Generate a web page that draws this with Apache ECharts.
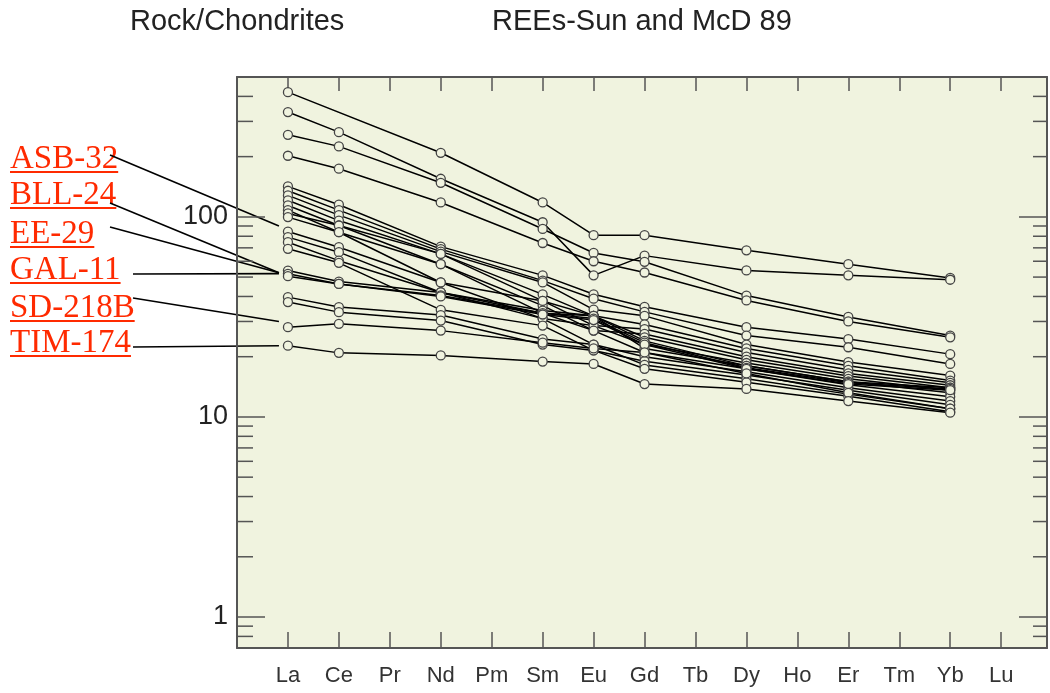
<!DOCTYPE html>
<html>
<head>
<meta charset="utf-8">
<script src="https://cdn.jsdelivr.net/npm/echarts@6/dist/echarts.min.js"></script>
<style>
  html, body { margin: 0; background: #fff; }
  #chart { width: 1050px; height: 693px; }
</style>
</head>
<body>
<div id="chart"></div>
<script>
// REE elements on the x axis, and the ones that were analysed
const elements = ['La', 'Ce', 'Pr', 'Nd', 'Pm', 'Sm', 'Eu', 'Gd', 'Tb', 'Dy', 'Ho', 'Er', 'Tm', 'Yb', 'Lu'];
const analysed = ['La', 'Ce', 'Nd', 'Sm', 'Eu', 'Gd', 'Dy', 'Er', 'Yb'];

// chondrite-normalised values, in the order of `analysed`
const s01 = [420, null, 209, 118, 81, 81, 68, 58, 49.5];
const s02 = [334, 265, 155, 94, 51, 64, 54, 51, 48.5];
const s03 = [257, 225, 148, 87, 66, 59.6, 40.4, 31.6, 25.5];
const s04 = [202, 174, 118, 74, 60, 52.7, 38.2, 30, 25];
const s05 = [142, 115, 71, 51, 41, 35.5, 28.1, 24.5, 20.6];
const s06 = [135, 108, 69, 48, 39, 33.5, 25.5, 22.3, 18.4];
const s07 = [128, 102, 67, 47, 34.4, 32, 23, 18.8, 16.1];
const s08 = [121, 95.8, 65.3, 41, 32, 29, 22, 18, 15.2];
const s09 = [114, 90.5, 65.3, 38, 28.6, 27.5, 21, 17.2, 14.8];
const s10 = [108, 83.8, 58, 36, 27, 26, 20, 16.5, 14.4];
const s11 = [104, 90.5, 58, 33, 32, 25, 19.3, 16, 14];
const s12 = [99.7, 83.8, 47, 31, 28.6, 23, 18.6, 15.5, 13.6];
const asb32 = [84.4, 70.5, 47, 38, 32, 22, 18, 15, 13.2];
const s14 = [79.2, 66.6, 41.9, 33, 27, 21, 17.4, 14.5, 12.6];
const s15 = [74.7, 60.4, 41.9, 31, 23, 20, 16.8, 14, 12];
const s16 = [69.2, 58.9, 34.3, 28.6, 21.5, 19, 16.2, 13.6, 11.5];
const bll24 = [53.9, 47.5, 41.9, 34, 32, 24, 18, 15, 14];
const ee29 = [51.9, 46.2, 40.5, 33, 31, 23.5, 17.6, 14.8, 13.8];
const gal11 = [50.5, 46.2, 40, 32.5, 30.5, 23, 17.4, 14.6, 13.6];
const s20 = [39.7, 35.4, 32.3, 24.5, 23, 18.2, 15.5, 13, 11];
const s21 = [37.5, 33.4, 30.3, 23, 21.5, 17.4, 14.9, 12.7, 10.6];
const sd218b = [28.1, 29.2, 27, 23.5, 22, 21, 16.5, 13.2, 11];
const tim174 = [22.7, 20.9, 20.3, 18.9, 18.4, 14.6, 13.8, 12, 10.5];

const samples = [s01, s02, s03, s04, s05, s06, s07, s08, s09, s10, s11, s12,
  asb32, s14, s15, s16, bll24, ee29, gal11, s20, s21, sd218b, tim174];

// y axis: decade labels and minor ticks
const yMin = 0.7, yMax = 500;
const minorTicks = [0.8, 0.9, 2, 3, 4, 5, 6, 7, 8, 9, 20, 30, 40, 50, 60, 70, 80, 90, 200, 300, 400];

// labelled samples and the value (at La) their leader line points to
const labelNames = ['ASB-32', 'BLL-24', 'EE-29', 'GAL-11', 'SD-218B', 'TIM-174'];
const labelTargets = [90, 52.5, 52.5, 52, 30, 22.7];

const axisColor = '#555';
const bg = '#F0F3DF';

const chart = echarts.init(document.getElementById('chart'));

function toPoints(vals) {
  const pts = [];
  vals.forEach((v, i) => {
    if (v !== null) pts.push([elements.indexOf(analysed[i]) + 1, v]);
  });
  return pts;
}

const lineSeries = samples.map(vals => ({
  type: 'line',
  data: toPoints(vals),
  symbol: 'circle',
  symbolSize: 9,
  showSymbol: true,
  lineStyle: { color: '#000', width: 1.5 },
  itemStyle: { color: bg, borderColor: '#444', borderWidth: 1.3 },
  emphasis: { disabled: true },
  silent: true,
  z: 3
}));

const minorTickSeries = {
  type: 'custom',
  data: minorTicks.map(v => [1, v]),
  silent: true,
  z: 4,
  renderItem(params, api) {
    const y = api.coord([1, api.value(1)])[1];
    const cs = params.coordSys;
    const st = { stroke: axisColor, lineWidth: 1.5 };
    return {
      type: 'group',
      children: [
        { type: 'line', shape: { x1: cs.x, y1: y, x2: cs.x + 16, y2: y }, style: st },
        { type: 'line', shape: { x1: cs.x + cs.width - 14, y1: y, x2: cs.x + cs.width, y2: y }, style: st }
      ]
    };
  }
};

const titleFont = '29px "Liberation Sans", Arial';
const titles = [
  { type: 'text', x: 130, y: 22, style: { text: 'Rock/Chondrites', font: titleFont, fill: '#222', verticalAlign: 'middle' } },
  { type: 'text', x: 492, y: 22, style: { text: 'REEs-Sun and McD 89', font: titleFont, fill: '#222', verticalAlign: 'middle' } }
];

chart.setOption({
  animation: false,
  backgroundColor: '#fff',
  textStyle: { fontFamily: '"Liberation Sans", Arial, sans-serif' },
  grid: {
    left: 237, right: 1, top: 77, bottom: 45,
    show: true, backgroundColor: bg, borderWidth: 0
  },
  xAxis: [
    {
      type: 'value', min: 0, max: 15.9, interval: 1,
      axisLine: { show: true, lineStyle: { color: axisColor, width: 2 } },
      axisTick: { show: true, inside: true, length: 16, lineStyle: { color: axisColor, width: 1.5 } },
      splitLine: { show: false },
      axisLabel: {
        color: '#333', fontSize: 22, margin: 17,
        formatter: v => (Number.isInteger(v) && v >= 1 && v <= 15) ? elements[v - 1] : ''
      }
    },
    {
      type: 'value', min: 0, max: 15.9, interval: 1, position: 'top',
      axisLine: { show: true, onZero: false, lineStyle: { color: axisColor, width: 2 } },
      axisTick: { show: true, inside: true, length: 14, lineStyle: { color: axisColor, width: 1.5 } },
      splitLine: { show: false },
      axisLabel: { show: false }
    }
  ],
  yAxis: [
    {
      type: 'log', logBase: 10, min: yMin, max: yMax,
      axisLine: { show: true, lineStyle: { color: axisColor, width: 2 } },
      axisTick: { show: true, inside: true, length: 28, lineStyle: { color: axisColor, width: 1.5 } },
      splitLine: { show: false },
      axisLabel: {
        color: '#222', fontSize: 27, margin: 9,
        showMinLabel: false, showMaxLabel: false,
        formatter: v => String(Math.round(v))
      }
    },
    {
      type: 'log', logBase: 10, min: yMin, max: yMax, position: 'right',
      axisLine: { show: true, onZero: false, lineStyle: { color: axisColor, width: 2 } },
      axisTick: { show: true, inside: true, length: 28, lineStyle: { color: axisColor, width: 1.5 } },
      splitLine: { show: false },
      axisLabel: { show: false }
    }
  ],
  series: [minorTickSeries, ...lineSeries],
  graphic: titles
});

// sample labels with leader lines (layout positions)
const labelBaselines = [170, 206, 245, 281, 319, 354];
const leaderStart = [[110, 155], [110, 203], [110, 227], [133, 274], [133, 298], [133, 347]];
const labelFont = '33px "Liberation Serif", "Times New Roman", serif';
const measure = document.createElement('canvas').getContext('2d');
measure.font = labelFont;

const extra = [];
labelNames.forEach((name, i) => {
  const base = labelBaselines[i];
  const w = measure.measureText(name).width;
  const end = chart.convertToPixel({ gridIndex: 0 }, [1, labelTargets[i]]);
  extra.push({
    type: 'text', x: 10, y: base - 11,
    style: { text: name, font: labelFont, fill: '#FF2A00', verticalAlign: 'middle' }
  });
  extra.push({
    type: 'rect', shape: { x: 10, y: base + 1, width: w, height: 2 },
    style: { fill: '#FF2A00' }
  });
  extra.push({
    type: 'line',
    shape: { x1: leaderStart[i][0], y1: leaderStart[i][1], x2: end[0] - 9, y2: end[1] },
    style: { stroke: '#000', lineWidth: 1.6 }
  });
});

chart.setOption({ graphic: [...titles, ...extra] });
</script>
</body>
</html>
